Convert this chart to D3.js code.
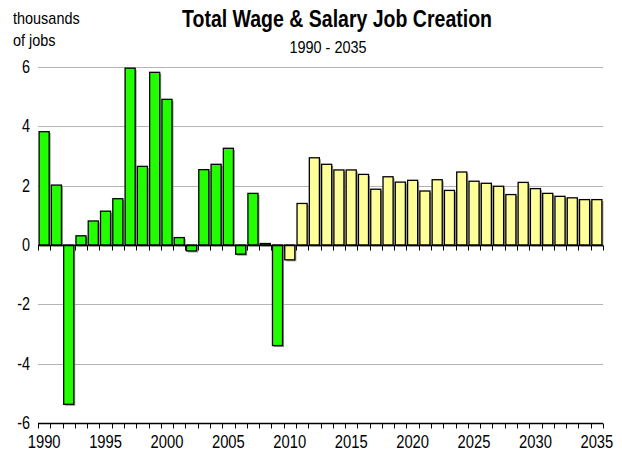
<!DOCTYPE html>
<html>
<head>
<meta charset="utf-8">
<script src="https://cdn.jsdelivr.net/npm/d3@7"></script>
<style>
  body { margin: 0; background: #fff; }
  text { font-family: "Liberation Sans", Arial, sans-serif; fill: #000; }
</style>
</head>
<body>
<div id="chart"></div>
<script>
var years = d3.range(1990, 2036);
var actual = [3.82, 2.02, -5.37, 0.31, 0.81, 1.14, 1.56, 5.96, 2.65, 5.82,
              4.91, 0.25, -0.2, 2.54, 2.72, 3.26, -0.31, 1.74, 0.05, -3.39];
var forecast = [-0.5, 1.4, 2.94, 2.72, 2.53, 2.53, 2.38, 1.88, 2.3, 2.12,
                2.18, 1.82, 2.2, 1.84, 2.46, 2.15, 2.08, 1.98, 1.7, 2.11,
                1.9, 1.74, 1.64, 1.59, 1.53, 1.53];
var yTicks = [-6, -4, -2, 0, 2, 4, 6];
var xLabels = [1990, 1995, 2000, 2005, 2010, 2015, 2020, 2025, 2030, 2035];

var data = actual.map(function (v, i) { return { year: 1990 + i, value: v, type: "actual" }; })
  .concat(forecast.map(function (v, i) { return { year: 2010 + i, value: v, type: "forecast" }; }));

var svgW = 622, svgH = 452;
var margin = { top: 67, right: 19, bottom: 29, left: 38 },
    w = svgW - margin.left - margin.right,
    h = svgH - margin.top - margin.bottom;

var svg = d3.select("#chart").append("svg").attr("width", svgW).attr("height", svgH);

// squeeze text horizontally to look like a condensed face
function condense(sel, factor) {
  sel.each(function () {
    var len = this.getComputedTextLength();
    d3.select(this).attr("textLength", len * factor).attr("lengthAdjust", "spacingAndGlyphs");
  });
}

var xScale = d3.scaleBand().domain(years).range([0, w]).paddingInner(0.18).paddingOuter(0.09);
var yScale = d3.scaleLinear().domain([-6, 6]).range([h, 0]);
var step = w / years.length;

var g = svg.append("g").attr("transform", "translate(" + margin.left + "," + margin.top + ")");

// gridlines
g.selectAll(".grid").data(yTicks.filter(function (d) { return d !== 0 && d !== -6; })).enter()
  .append("line").attr("class", "grid")
  .attr("x1", 0).attr("x2", w)
  .attr("y1", function (d) { return Math.round(yScale(d)) + 0.5; })
  .attr("y2", function (d) { return Math.round(yScale(d)) + 0.5; })
  .attr("stroke", "#b4b4b4").attr("stroke-width", 1);

// y labels
g.selectAll(".ylab").data(yTicks).enter().append("text").attr("class", "ylab")
  .attr("x", -8).attr("y", function (d) { return yScale(d) + 6; })
  .attr("text-anchor", "end").attr("font-size", "18px")
  .text(function (d) { return d; })
  .call(condense, 0.8);

// bar shadows
g.selectAll(".shadow").data(data).enter().append("rect").attr("class", "shadow")
  .attr("x", function (d) { return xScale(d.year) + 1.5; })
  .attr("y", function (d) { return yScale(Math.max(0, d.value)) + 1.5; })
  .attr("width", xScale.bandwidth())
  .attr("height", function (d) { return Math.abs(yScale(d.value) - yScale(0)); })
  .attr("fill", "#9a9a9a");

// bars
g.selectAll(".bar").data(data).enter().append("rect").attr("class", "bar")
  .attr("x", function (d) { return xScale(d.year); })
  .attr("y", function (d) { return yScale(Math.max(0, d.value)); })
  .attr("width", xScale.bandwidth())
  .attr("height", function (d) { return Math.abs(yScale(d.value) - yScale(0)); })
  .attr("fill", function (d) { return d.type === "actual" ? "#22ff00" : "#ffff99"; })
  .attr("stroke", "#000").attr("stroke-width", 1.3);

// zero line and bottom axis, ticks on band edges
[0, -6].forEach(function (v) {
  var yy = Math.round(yScale(v)) + 0.5;
  g.append("line").attr("x1", 0).attr("x2", w).attr("y1", yy).attr("y2", yy)
    .attr("stroke", "#000").attr("stroke-width", 1.5);
  g.selectAll(".tick" + (v + 6)).data(d3.range(years.length + 1)).enter().append("line")
    .attr("x1", function (i) { return Math.round(i * step) + 0.5; })
    .attr("x2", function (i) { return Math.round(i * step) + 0.5; })
    .attr("y1", yy).attr("y2", yy + 5)
    .attr("stroke", "#000").attr("stroke-width", 1);
});

// x labels
g.selectAll(".xlab").data(xLabels).enter().append("text").attr("class", "xlab")
  .attr("x", function (d) { return xScale(d) + xScale.bandwidth() / 2; })
  .attr("y", h + 25).attr("text-anchor", "middle").attr("font-size", "18px")
  .text(function (d) { return d; })
  .call(condense, 0.82);

// titles
svg.append("text").attr("x", 337).attr("y", 27).attr("text-anchor", "middle")
  .attr("font-size", "24px").attr("font-weight", "bold").text("Total Wage & Salary Job Creation")
  .attr("textLength", 310).attr("lengthAdjust", "spacingAndGlyphs");
svg.append("text").attr("x", 328).attr("y", 53).attr("text-anchor", "middle")
  .attr("font-size", "17px").text("1990 - 2035")
  .call(condense, 0.85);
svg.append("text").attr("x", 13).attr("y", 24).attr("font-size", "17px").text("thousands")
  .call(condense, 0.85);
svg.append("text").attr("x", 13).attr("y", 46).attr("font-size", "17px").text("of jobs")
  .call(condense, 0.85);
</script>
</body>
</html>
